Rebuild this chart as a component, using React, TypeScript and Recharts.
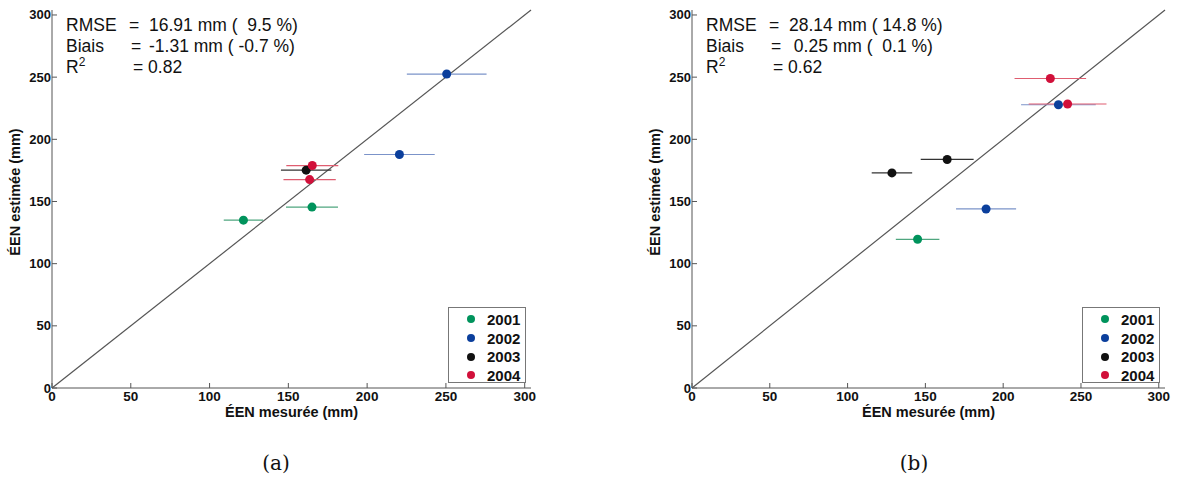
import { ScatterChart, Scatter, XAxis, YAxis, ErrorBar, ReferenceLine, Legend } from 'recharts';

const years = ['2001', '2002', '2003', '2004'];
const colors = ['#00935c', '#0b3f9c', '#111111', '#d1103a'];
const barColors = ['#4fa67f', '#7b93c9', '#333333', '#df5d70'];
const ticks = [0, 50, 100, 150, 200, 250, 300];

// (a) measured / estimated / half-width of error bar
const aX2001 = [121.5, 165];
const aY2001 = [135, 145.5];
const aE2001 = [12.5, 16.5];
const aX2002 = [250.5, 220.5];
const aY2002 = [252.5, 187.8];
const aE2002 = [25.3, 22.4];
const aX2003 = [161.3];
const aY2003 = [175.2];
const aE2003 = [16];
const aX2004 = [165.2, 163.5];
const aY2004 = [178.9, 167.6];
const aE2004 = [16.5, 16.6];

// (b)
const bX2001 = [145];
const bY2001 = [119.6];
const bE2001 = [14];
const bX2002 = [235.5, 189];
const bY2002 = [227.8, 144];
const bE2002 = [24, 19.3];
const bX2003 = [164, 128.5];
const bY2003 = [183.8, 173];
const bE2003 = [17, 13];
const bX2004 = [230.3, 241.4];
const bY2004 = [248.9, 228.4];
const bE2004 = [23, 25];

const statsA = ['16.91 mm (  9.5 %)', '-1.31 mm ( -0.7 %)', '0.82'];
const statsB = ['28.14 mm ( 14.8 %)', ' 0.25 mm (  0.1 %)', '0.62'];

const rows = (x: number[], y: number[], e: number[]) => x.map((v, i) => ({ x: v, y: y[i], ex: e[i] }));

const seriesA = [rows(aX2001, aY2001, aE2001), rows(aX2002, aY2002, aE2002), rows(aX2003, aY2003, aE2003), rows(aX2004, aY2004, aE2004)];
const seriesB = [rows(bX2001, bY2001, bE2001), rows(bX2002, bY2002, bE2002), rows(bX2003, bY2003, bE2003), rows(bX2004, bY2004, bE2004)];

const SANS = '"Liberation Sans", Arial, sans-serif';
const AX = '#555';

const BottomTick = (p: any) => (
  <g>
    <line x1={p.x} x2={p.x} y1={p.y - 2} y2={p.y - 7} stroke={AX} />
    <text x={p.x} y={p.y} dy={10.5} textAnchor="middle" fontFamily={SANS} fontWeight="bold" fontSize={13.5} fill="#111">
      {p.payload.value}
    </text>
  </g>
);
const LeftTick = (p: any) => (
  <g>
    <line x1={p.x + 1} x2={p.x + 6} y1={p.y} y2={p.y} stroke={AX} />
    <text x={p.x} y={p.y} dy={4.5} textAnchor="end" fontFamily={SANS} fontWeight="bold" fontSize={13} fill="#111">
      {p.payload.value}
    </text>
  </g>
);
const TopTick = (p: any) => <line x1={p.x} x2={p.x} y1={p.y} y2={p.y + 5} stroke={AX} />;
const RightTick = (p: any) => <line x1={p.x} x2={p.x - 5} y1={p.y} y2={p.y} stroke={AX} />;

const yTitle = (p: any) => {
  const vb = p.viewBox || { x: 0, y: 10, height: 378 };
  const cx = vb.x + 15;
  const cy = vb.y + vb.height / 2 - 7;
  return (
    <text x={cx} y={cy} transform={`rotate(-90 ${cx} ${cy})`} textAnchor="middle" dominantBaseline="central" fontFamily={SANS} fontWeight="bold" fontSize={14.5} fill="#111">
      ÉEN estimée (mm)
    </text>
  );
};

const legendBox = (p: any) => (
  <div style={{ border: '1px solid #777', background: '#fff', width: 78, height: 76, boxSizing: 'border-box', paddingTop: 2 }}>
    {(p.payload || []).map((e: any) => (
      <div key={e.value} style={{ display: 'flex', alignItems: 'center', height: 18.7 }}>
        <span style={{ display: 'inline-block', width: 8, height: 8, borderRadius: 4, background: e.color, marginLeft: 18 }} />
        <span style={{ marginLeft: 12, fontFamily: SANS, fontWeight: 'bold', fontSize: 15, color: '#111' }}>{e.value}</span>
      </div>
    ))}
  </div>
);

function Panel({ series, left, width, right, legendLeft, stats }: any) {
  const plotLeft = 52;
  const line = { position: 'absolute' as const, whiteSpace: 'pre' as const, fontFamily: SANS, fontSize: 17.5, lineHeight: '20px', color: '#111' };
  return (
    <div style={{ position: 'absolute', left, top: 0, width, height: 430 }}>
      <ScatterChart width={width} height={430} margin={{ top: 10, right, bottom: 12, left: 0 }}>
        <XAxis type="number" dataKey="x" domain={[0, 304]} ticks={ticks} interval={0} allowDataOverflow height={30} tickSize={0} tickMargin={2} tick={BottomTick} axisLine={{ stroke: AX }}
          label={{ value: 'ÉEN mesurée (mm)', position: 'insideBottom', offset: 1, fill: '#111', fontSize: 14.5, fontWeight: 'bold', fontFamily: SANS }} />
        <XAxis xAxisId="top" orientation="top" type="number" domain={[0, 304]} ticks={ticks} interval={0} allowDataOverflow height={0} tickSize={0} tickMargin={0} tick={TopTick} axisLine={{ stroke: AX }} />
        <YAxis type="number" dataKey="y" domain={[0, 304]} ticks={ticks} interval={0} allowDataOverflow width={plotLeft} tickSize={0} tickMargin={1} tick={LeftTick} axisLine={{ stroke: AX }} label={{ content: yTitle }} />
        <YAxis yAxisId="right" orientation="right" type="number" domain={[0, 304]} ticks={ticks} interval={0} allowDataOverflow width={0} tickSize={0} tickMargin={0} tick={RightTick} axisLine={{ stroke: AX }} />
        <ReferenceLine segment={[{ x: 0, y: 0 }, { x: 304, y: 304 }]} stroke="#555" strokeWidth={1.2} ifOverflow="visible" />
        {series.map((d: any, i: number) => (
          <Scatter key={years[i]} name={years[i]} data={d} fill={colors[i]} isAnimationActive={false}
            shape={(s: any) => <circle cx={s.cx} cy={s.cy} r={4.5} fill={colors[i]} />}>
            <ErrorBar dataKey="ex" direction="x" width={0} stroke={barColors[i]} strokeWidth={1.2} />
          </Scatter>
        ))}
        <Legend layout="horizontal" align="center" verticalAlign="middle" content={legendBox}
          wrapperStyle={{ left: legendLeft, top: 307, width: 78, height: 76 }} />
      </ScatterChart>
      <div style={{ ...line, left: plotLeft + 14, top: 15 }}>RMSE</div>
      <div style={{ ...line, left: plotLeft + 77, top: 15 }}>=</div>
      <div style={{ ...line, left: plotLeft + 97, top: 15 }}>{stats[0]}</div>
      <div style={{ ...line, left: plotLeft + 14, top: 36 }}>Biais</div>
      <div style={{ ...line, left: plotLeft + 79, top: 36 }}>=</div>
      <div style={{ ...line, left: plotLeft + 97, top: 36 }}>{stats[1]}</div>
      <div style={{ ...line, left: plotLeft + 14, top: 57 }}>R<sup style={{ fontSize: 12, lineHeight: 0 }}>2</sup></div>
      <div style={{ ...line, left: plotLeft + 81, top: 57 }}>{'= ' + stats[2]}</div>
    </div>
  );
}

export default function App() {
  const cap = { position: 'absolute' as const, top: 451, width: 60, textAlign: 'center' as const, fontFamily: '"DejaVu Serif", "Liberation Serif", serif', fontSize: 20, color: '#111' };
  return (
    <div style={{ position: 'absolute', left: 0, top: 0, width: 1179, height: 485, background: '#fff', overflow: 'hidden' }}>
      <Panel series={seriesA} left={0} width={560} right={29} legendLeft={448} stats={statsA} />
      <Panel series={seriesB} left={640} width={539} right={14} legendLeft={442} stats={statsB} />
      <div style={{ ...cap, left: 246 }}>(a)</div>
      <div style={{ ...cap, left: 884 }}>(b)</div>
    </div>
  );
}
